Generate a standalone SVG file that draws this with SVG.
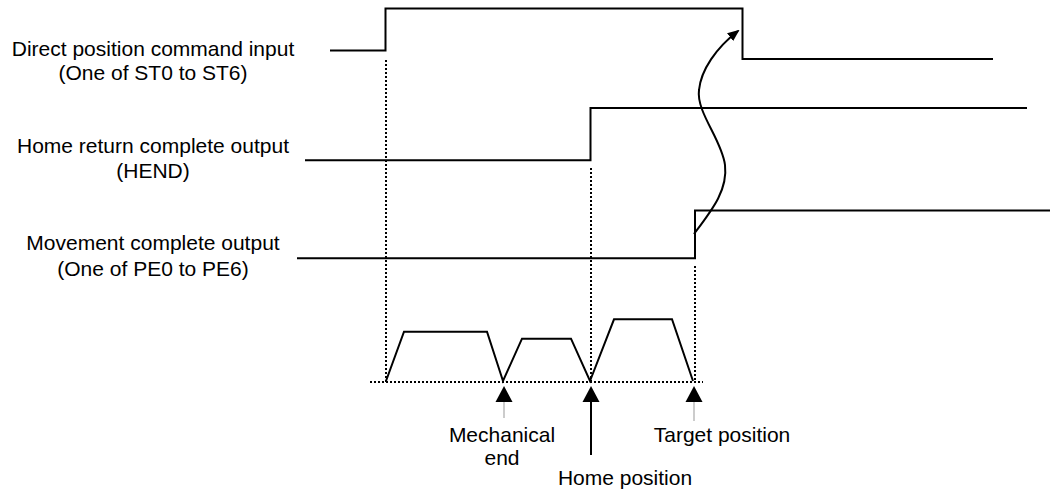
<svg xmlns="http://www.w3.org/2000/svg" width="1050" height="489" viewBox="0 0 1050 489">
<style>
.sig{fill:none;stroke:#000;stroke-width:2}
.dot{fill:none;stroke:#000;stroke-width:2;stroke-dasharray:2 2}
.lbl{font-family:"Liberation Sans",Arial,sans-serif;font-size:21px;fill:#000;text-anchor:middle}
.tri{fill:#000}
</style>
<defs>
<marker id="ah" markerWidth="12" markerHeight="10" refX="10" refY="5" orient="auto" markerUnits="userSpaceOnUse">
<path d="M0,0 L12,5 L0,10 Z" fill="#000"/>
</marker>
</defs>
<rect width="1050" height="489" fill="#fff"/>
<g id="labels">
<text class="lbl" x="153" y="56">Direct position command input</text>
<text class="lbl" x="153" y="80">(One of ST0 to ST6)</text>
<text class="lbl" x="153" y="153">Home return complete output</text>
<text class="lbl" x="153" y="178">(HEND)</text>
<text class="lbl" x="153" y="250">Movement complete output</text>
<text class="lbl" x="153" y="276">(One of PE0 to PE6)</text>
</g>
<g id="signals">
<path id="st" class="sig" d="M330,50.5 H385.5 V8.5 H742.5 V59 H993"/>
<path id="hend" class="sig" d="M305,160.3 H590.5 V108 H1027"/>
<path id="pe" class="sig" d="M297,258.3 H695 V210.5 H1050"/>
</g>
<g id="guides">
<line class="dot" x1="386" y1="60" x2="386" y2="382"/>
<line class="dot" x1="591" y1="168" x2="591" y2="382"/>
<line class="dot" x1="695" y1="266" x2="695" y2="382"/>
<line class="dot" x1="370" y1="382" x2="703" y2="382"/>
</g>
<g id="velocity">
<path class="sig" d="M386,381 L404,331.7 H487 L503,381 L522,338.7 H571 L590,381 L614,319.3 H672 L693,381"/>
</g>
<g id="connectors">
<path class="sig" d="M694,234 C712,210 728,190 725,165 C722,140 696,112 699,90 C701,70 716,48 738,31" marker-end="url(#ah)"/>
</g>
<g id="mech-end">
<path class="tri" d="M504,386 L512.5,402 L495.5,402 Z"/>
<line x1="504" y1="402" x2="504" y2="418" stroke="#999" stroke-width="1"/>
<text class="lbl" x="502" y="441.5">Mechanical</text>
<text class="lbl" x="502" y="465">end</text>
</g>
<g id="home-pos">
<path class="tri" d="M591,386 L599.5,402 L582.5,402 Z"/>
<line x1="591" y1="400" x2="591" y2="455" stroke="#000" stroke-width="2"/>
<text class="lbl" x="625" y="485">Home position</text>
</g>
<g id="target-pos">
<path class="tri" d="M694,386 L702.5,402 L685.5,402 Z"/>
<line x1="694" y1="402" x2="694" y2="421" stroke="#999" stroke-width="1"/>
<text class="lbl" x="722" y="441.5">Target position</text>
</g>
</svg>
